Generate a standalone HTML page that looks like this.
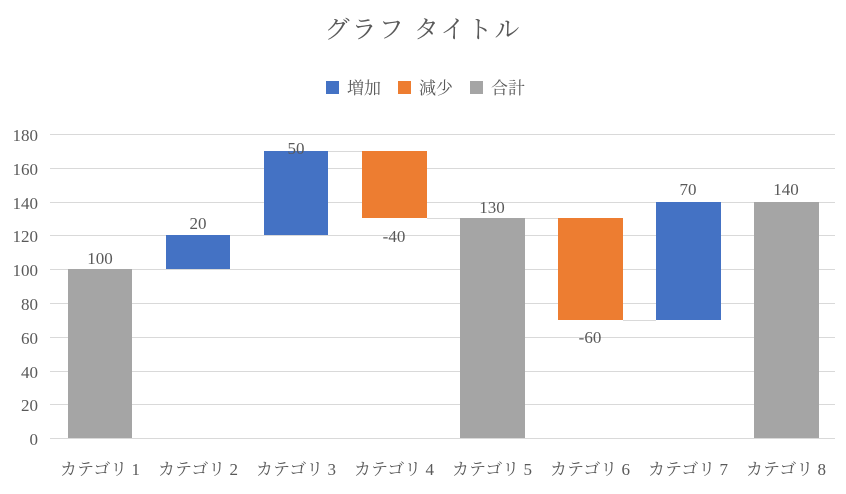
<!DOCTYPE html>
<html><head><meta charset="utf-8"><style>
body{margin:0;background:#fff;}
svg text{font-family:"Liberation Serif","Noto Serif CJK JP",serif;fill:#595959;}
</style></head><body>
<svg width="846" height="489" viewBox="0 0 846 489" xmlns="http://www.w3.org/2000/svg">
<rect width="846" height="489" fill="#fff"/>
<text x="423" y="38" font-size="25" text-anchor="middle" letter-spacing="2">グラフ タイトル</text>
<rect x="326" y="81" width="13" height="13" fill="#4472C4"/>
<text x="347" y="94" font-size="17">増加</text>
<rect x="398" y="81" width="13" height="13" fill="#ED7D31"/>
<text x="419" y="94" font-size="17">減少</text>
<rect x="470" y="81" width="13" height="13" fill="#A5A5A5"/>
<text x="491" y="94" font-size="17">合計</text>
<g stroke="#d9d9d9" stroke-width="1">
<line x1="50" x2="835" y1="134.5" y2="134.5"/>
<line x1="50" x2="835" y1="168.5" y2="168.5"/>
<line x1="50" x2="835" y1="202.5" y2="202.5"/>
<line x1="50" x2="835" y1="235.5" y2="235.5"/>
<line x1="50" x2="835" y1="269.5" y2="269.5"/>
<line x1="50" x2="835" y1="303.5" y2="303.5"/>
<line x1="50" x2="835" y1="337.5" y2="337.5"/>
<line x1="50" x2="835" y1="371.5" y2="371.5"/>
<line x1="50" x2="835" y1="404.5" y2="404.5"/>
<line x1="50" x2="835" y1="438.5" y2="438.5"/>
</g>
<g font-size="17" text-anchor="end">
<text x="38" y="141">180</text><text x="38" y="175">160</text><text x="38" y="209">140</text>
<text x="38" y="242">120</text><text x="38" y="276">100</text><text x="38" y="310">80</text>
<text x="38" y="344">60</text><text x="38" y="378">40</text><text x="38" y="411">20</text>
<text x="38" y="445">0</text>
</g>
<g stroke="#d9d9d9" stroke-width="1">
<line x1="132" x2="166" y1="269.5" y2="269.5"/>
<line x1="230" x2="264" y1="235.5" y2="235.5"/>
<line x1="328" x2="362" y1="151.5" y2="151.5"/>
<line x1="427" x2="460" y1="218.5" y2="218.5"/>
<line x1="525" x2="558" y1="218.5" y2="218.5"/>
<line x1="623" x2="656" y1="320.5" y2="320.5"/>
<line x1="721" x2="754" y1="202.5" y2="202.5"/>
</g>
<rect x="68" y="269" width="64" height="169" fill="#A5A5A5"/>
<rect x="166" y="235" width="64" height="34" fill="#4472C4"/>
<rect x="264" y="151" width="64" height="84" fill="#4472C4"/>
<rect x="362" y="151" width="65" height="67" fill="#ED7D31"/>
<rect x="460" y="218" width="65" height="220" fill="#A5A5A5"/>
<rect x="558" y="218" width="65" height="102" fill="#ED7D31"/>
<rect x="656" y="202" width="65" height="118" fill="#4472C4"/>
<rect x="754" y="202" width="65" height="236" fill="#A5A5A5"/>
<g font-size="17" text-anchor="middle">
<text x="100" y="264">100</text>
<text x="198" y="229">20</text>
<text x="296" y="154">50</text>
<text x="394" y="242">-40</text>
<text x="492" y="213">130</text>
<text x="590" y="343">-60</text>
<text x="688" y="195">70</text>
<text x="786" y="195">140</text>
</g>
<g font-size="17" text-anchor="middle">
<text x="100" y="475">カテゴリ 1</text>
<text x="198" y="475">カテゴリ 2</text>
<text x="296" y="475">カテゴリ 3</text>
<text x="394" y="475">カテゴリ 4</text>
<text x="492" y="475">カテゴリ 5</text>
<text x="590" y="475">カテゴリ 6</text>
<text x="688" y="475">カテゴリ 7</text>
<text x="786" y="475">カテゴリ 8</text>
</g>
</svg>
</body></html>
